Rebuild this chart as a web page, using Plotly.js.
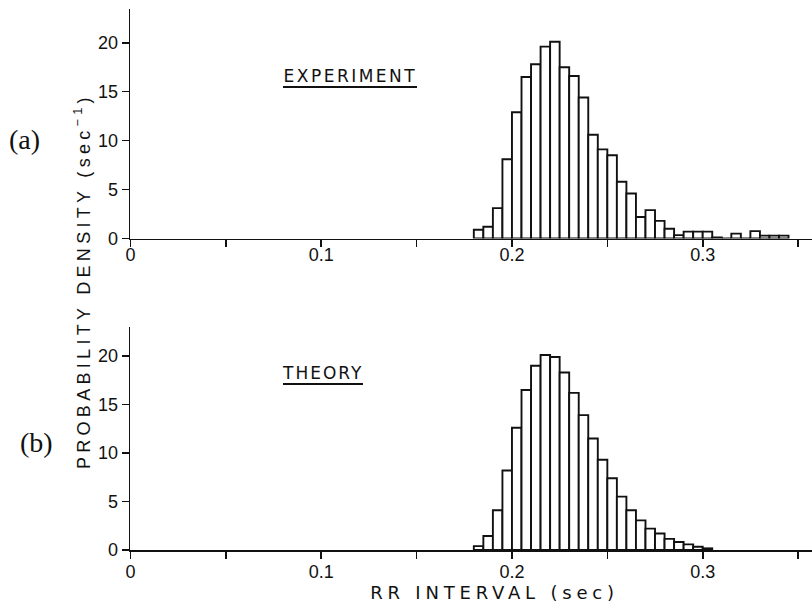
<!DOCTYPE html>
<html>
<head>
<meta charset="utf-8">
<script src="https://cdn.plot.ly/plotly-3.0.1.min.js"></script>
<style>
  html, body { margin: 0; padding: 0; background: #fff; }
  #chart { width: 812px; height: 602px; }
  .annotation[data-index="2"] .annotation-text { letter-spacing: 2.5px; }
  .annotation[data-index="3"] .annotation-text { letter-spacing: 2px; }
  .annotation[data-index="4"] .annotation-text { letter-spacing: 4.3px; }
  .annotation[data-index="5"] .annotation-text { letter-spacing: 4.8px; }
</style>
</head>
<body>
<div id="chart"></div>
<script>
// ---- Data ----
const binWidth = 0.005;
const expBinLeft = [0.180, 0.185, 0.190, 0.195, 0.200, 0.205, 0.210, 0.215, 0.220, 0.225,
                    0.230, 0.235, 0.240, 0.245, 0.250, 0.255, 0.260, 0.265, 0.270, 0.275,
                    0.280, 0.285, 0.290, 0.295, 0.300, 0.305, 0.310, 0.315, 0.320, 0.325,
                    0.330, 0.335, 0.340];
const expDensity = [0.9, 1.2, 3.1, 8.1, 12.9, 16.5, 17.8, 19.6, 20.1, 17.5,
                    16.6, 14.4, 10.6, 9.1, 8.5, 5.8, 4.6, 2.2, 2.9, 1.8,
                    1.0, 0.35, 0.7, 0.7, 0.7, 0.1, 0, 0.5, 0, 0.75,
                    0.3, 0.3, 0.3];
const theoryBinLeft = [0.180, 0.185, 0.190, 0.195, 0.200, 0.205, 0.210, 0.215, 0.220, 0.225,
                       0.230, 0.235, 0.240, 0.245, 0.250, 0.255, 0.260, 0.265, 0.270, 0.275,
                       0.280, 0.285, 0.290, 0.295, 0.300];
const theoryDensity = [0.4, 1.45, 4.1, 8.2, 12.6, 16.5, 19.0, 20.1, 19.9, 18.3,
                       16.2, 13.9, 11.5, 9.3, 7.4, 5.5, 4.1, 3.05, 2.2, 1.7,
                       1.15, 0.82, 0.58, 0.34, 0.17];
const xTickVals = [0, 0.1, 0.2, 0.3];
const xTickText = ["0", "0.1", "0.2", "0.3"];
const xMinorTickVals = [0.05, 0.15, 0.25, 0.35];
const yTickVals = [0, 5, 10, 15, 20];
const yTickText = ["0", "5", "10", "15", "20"];

// ---- Helpers for pixel placement of labels ----
const W = 812, H = 602;
const px = v => v / W;
const py = v => 1 - v / H;

const ink = '#111';
const tickFont = {family: 'Liberation Sans, Arial, sans-serif', size: 18, color: ink};

const barStyle = {color: '#ffffff', line: {color: ink, width: 1.9}};

const traces = [
  {type: 'bar', x: expBinLeft, y: expDensity, width: binWidth, offset: 0,
   marker: barStyle, xaxis: 'x', yaxis: 'y', hoverinfo: 'skip'},
  {type: 'bar', x: theoryBinLeft, y: theoryDensity, width: binWidth, offset: 0,
   marker: barStyle, xaxis: 'x2', yaxis: 'y2', hoverinfo: 'skip'}
];

function xAxis(anchor, standoff) {
  return {
    domain: [0.1607, 1], range: [0, 0.3573], anchor: anchor,
    tickmode: 'array', tickvals: xTickVals, ticktext: xTickText,
    ticks: 'outside', ticklen: 7, tickwidth: 1.6, tickcolor: ink,
    ticklabelstandoff: standoff,
    minor: {tickmode: 'array', tickvals: xMinorTickVals, ticks: 'outside',
            ticklen: 7, tickwidth: 1.6, tickcolor: ink, showgrid: false},
    showline: true, linewidth: 1.8, linecolor: ink,
    showgrid: false, zeroline: false, tickfont: tickFont, fixedrange: true
  };
}
function yAxis(anchor, domain, top) {
  return {
    domain: domain, range: [0, top], anchor: anchor,
    tickmode: 'array', tickvals: yTickVals, ticktext: yTickText,
    ticks: 'outside', ticklen: 7, tickwidth: 1.6, tickcolor: ink,
    showline: true, linewidth: 1.8, linecolor: ink,
    showgrid: false, zeroline: false, tickfont: tickFont, fixedrange: true
  };
}

const sansLetter = 'DejaVu Sans, Liberation Sans, sans-serif';
const layout = {
  width: W, height: H,
  margin: {l: 0, r: 0, t: 0, b: 0},
  paper_bgcolor: '#fff', plot_bgcolor: '#fff',
  showlegend: false, bargap: 0,
  xaxis: xAxis('y', -8),
  yaxis: yAxis('x', [0.6038, 0.985], 23.44),
  xaxis2: xAxis('y2', -2),
  yaxis2: yAxis('x2', [0.0864, 0.4573], 23.02),
  annotations: [
    {text: '(a)', xref: 'paper', yref: 'paper', x: px(24), y: py(139),
     xanchor: 'center', yanchor: 'middle', showarrow: false,
     font: {family: 'Liberation Serif, Times New Roman, serif', size: 28, color: ink}},
    {text: '(b)', xref: 'paper', yref: 'paper', x: px(36), y: py(442),
     xanchor: 'center', yanchor: 'middle', showarrow: false,
     font: {family: 'Liberation Serif, Times New Roman, serif', size: 28, color: ink}},
    {text: 'EXPERIMENT', xref: 'paper', yref: 'paper', x: px(350), y: py(76),
     xanchor: 'center', yanchor: 'middle', showarrow: false,
     font: {family: sansLetter, size: 17, color: ink}},
    {text: 'THEORY', xref: 'paper', yref: 'paper', x: px(323), y: py(372.5),
     xanchor: 'center', yanchor: 'middle', showarrow: false,
     font: {family: sansLetter, size: 17, color: ink}},
    {text: 'PROBABILITY DENSITY (sec<sup>−1</sup>)', xref: 'paper', yref: 'paper',
     x: px(82), y: py(281), textangle: -90,
     xanchor: 'center', yanchor: 'middle', showarrow: false,
     font: {family: 'Liberation Sans, Arial, sans-serif', size: 18, color: ink}},
    {text: 'RR INTERVAL (sec)', xref: 'paper', yref: 'paper', x: px(494), y: py(592),
     xanchor: 'center', yanchor: 'middle', showarrow: false,
     font: {family: sansLetter, size: 18, color: ink}}
  ],
  shapes: [
    {type: 'line', xref: 'paper', yref: 'paper', x0: px(283), x1: px(417), y0: py(87), y1: py(87),
     line: {color: ink, width: 2.2}},
    {type: 'line', xref: 'paper', yref: 'paper', x0: px(283), x1: px(363), y0: py(384), y1: py(384),
     line: {color: ink, width: 2.2}}
  ]
};

Plotly.newPlot('chart', traces, layout, {displayModeBar: false, staticPlot: true});
</script>
</body>
</html>
